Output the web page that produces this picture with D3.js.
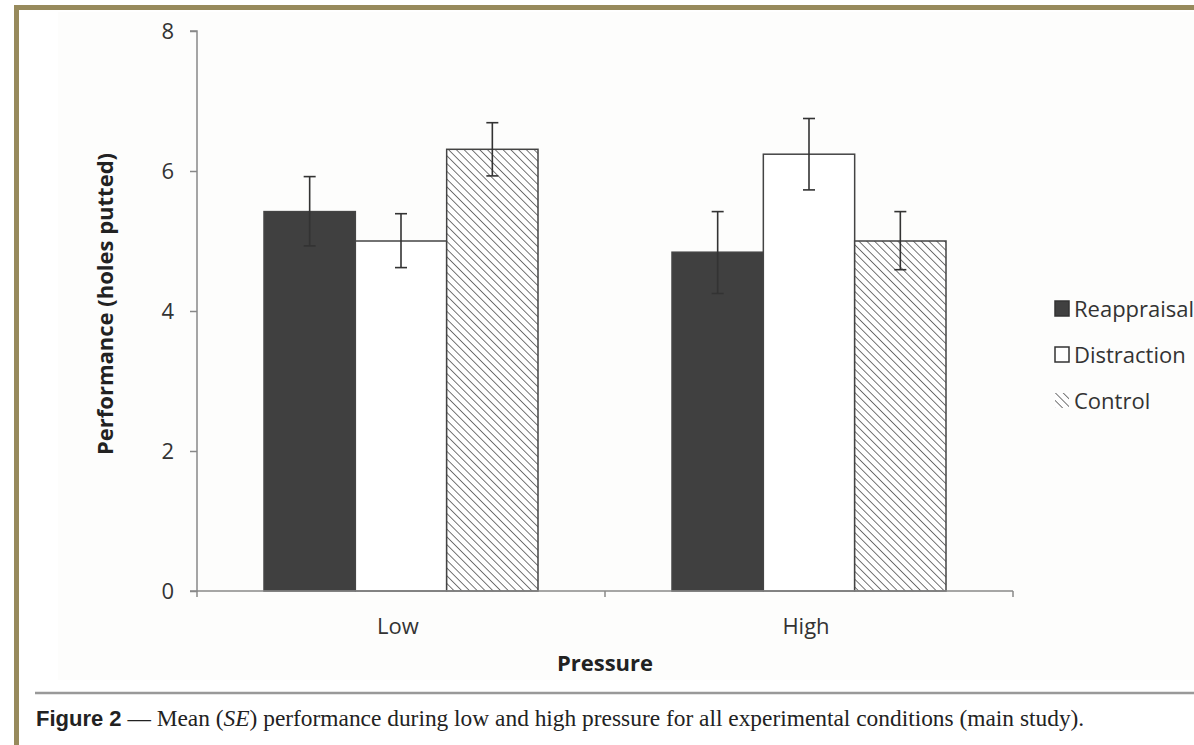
<!DOCTYPE html>
<html>
<head>
<meta charset="utf-8">
<script src="https://cdn.jsdelivr.net/npm/d3@7"></script>
<style>
  body { margin: 0; background: #fff; }
  svg { display: block; }
</style>
</head>
<body>
<svg width="1194" height="745"></svg>
<script>
const groups = ["Low", "High"];
const conditions = ["Reappraisal", "Distraction", "Control"];
const means = {
  Low:  [5.42, 5.0, 6.31],
  High: [4.84, 6.24, 5.0]
};
const errLow = {
  Low:  [4.93, 4.62, 5.93],
  High: [4.25, 5.73, 4.59]
};
const errHigh = {
  Low:  [5.92, 5.39, 6.69],
  High: [5.42, 6.75, 5.42]
};
const yTicks = [0, 2, 4, 6, 8];

const svg = d3.select("svg");

// frame
svg.append("rect").attr("x", 16.5).attr("y", 7.5).attr("width", 1200).attr("height", 760)
  .attr("fill", "none").attr("stroke", "#978a5c").attr("stroke-width", 5);
svg.append("rect").attr("x", 58).attr("y", 12).attr("width", 1140).attr("height", 668)
  .attr("fill", "#fdfdfc");

const margin = { top: 31, left: 197 };
const width = 1013 - 197;
const height = 591 - 31;

const g = svg.append("g").attr("transform", `translate(${margin.left},${margin.top})`);

const x0 = d3.scaleBand().domain(groups).range([0, width]).paddingInner(0).paddingOuter(0);
const x1 = d3.scaleBand().domain(conditions).range([67, x0.bandwidth() - 67]);
const y = d3.scaleLinear().domain([0, 8]).range([height, 0]);

// hatch pattern
const defs = svg.append("defs");
const pat = defs.append("pattern").attr("id", "hatch").attr("patternUnits", "userSpaceOnUse")
  .attr("width", 5.5).attr("height", 5.5).attr("patternTransform", "rotate(-45)");
pat.append("rect").attr("width", 5.5).attr("height", 5.5).attr("fill", "#fff");
pat.append("line").attr("x1", 0).attr("y1", 0).attr("x2", 0).attr("y2", 5.5)
  .attr("stroke", "#555").attr("stroke-width", 1.6);

const fills = { Reappraisal: "#404040", Distraction: "#ffffff", Control: "url(#hatch)" };
const font = "Open Sans";

// y axis
const yAxis = g.append("g").call(d3.axisLeft(y).tickValues(yTicks).tickSize(7).tickPadding(16));
yAxis.select(".domain").attr("stroke", "#888").attr("stroke-width", 1.5).attr("d", `M-7,${height}H0V0H-7`);
yAxis.selectAll(".tick line").attr("stroke", "#888").attr("stroke-width", 1.5);
yAxis.selectAll("text").attr("font-family", font).attr("font-size", 22).attr("fill", "#333");

// bars
const bars = [];
groups.forEach(gr => conditions.forEach((c, i) => bars.push({
  group: gr, cond: c, v: means[gr][i], lo: errLow[gr][i], hi: errHigh[gr][i]
})));

g.selectAll(".bar").data(bars).join("rect")
  .attr("class", "bar")
  .attr("x", d => x0(d.group) + x1(d.cond))
  .attr("y", d => y(d.v))
  .attr("width", x1.bandwidth())
  .attr("height", d => y(0) - y(d.v))
  .attr("fill", d => fills[d.cond])
  .attr("stroke", "#444").attr("stroke-width", 1.5);

// x axis
const xAxis = g.append("g").attr("transform", `translate(0,${height})`);
xAxis.append("path").attr("d", `M0,0H${width}`).attr("stroke", "#888").attr("stroke-width", 1.5);
xAxis.selectAll(".xt").data([0, x0.bandwidth(), width]).join("line")
  .attr("x1", d => d).attr("x2", d => d).attr("y1", 0).attr("y2", 6)
  .attr("stroke", "#888").attr("stroke-width", 1.5);
xAxis.selectAll(".xl").data(groups).join("text")
  .attr("x", d => x0(d) + x0.bandwidth() / 2 - 3).attr("y", 43)
  .attr("text-anchor", "middle").attr("font-family", font).attr("font-size", 22)
  .attr("fill", "#333").text(d => d);

// error bars
const eb = g.selectAll(".err").data(bars).join("g").attr("class", "err")
  .attr("transform", d => `translate(${x0(d.group) + x1(d.cond) + x1.bandwidth() / 2},0)`);
eb.append("line").attr("y1", d => y(d.lo)).attr("y2", d => y(d.hi)).attr("stroke", "#333").attr("stroke-width", 1.6);
eb.append("line").attr("x1", -6).attr("x2", 6).attr("y1", d => y(d.lo)).attr("y2", d => y(d.lo)).attr("stroke", "#333").attr("stroke-width", 1.6);
eb.append("line").attr("x1", -6).attr("x2", 6).attr("y1", d => y(d.hi)).attr("y2", d => y(d.hi)).attr("stroke", "#333").attr("stroke-width", 1.6);

// axis titles
g.append("text").attr("transform", `translate(-84,273) rotate(-90)`)
  .attr("text-anchor", "middle").attr("font-family", font).attr("font-weight", "bold")
  .attr("font-size", 22).attr("fill", "#222").text("Performance (holes putted)");
g.append("text").attr("x", width / 2).attr("y", height + 80)
  .attr("text-anchor", "middle").attr("font-family", font).attr("font-weight", "bold")
  .attr("font-size", 22).attr("fill", "#222").text("Pressure");

// legend
const leg = svg.append("g").attr("transform", "translate(1055,0)");
const legY = [309, 355, 401];
conditions.forEach((c, i) => {
  const row = leg.append("g").attr("transform", `translate(0,${legY[i]})`);
  row.append("rect").attr("x", 0).attr("y", -8).attr("width", 14).attr("height", 15)
    .attr("fill", fills[c]).attr("stroke", c === "Control" ? "none" : "#333").attr("stroke-width", 1.5);
  row.append("text").attr("x", 19).attr("y", 8).attr("font-family", font)
    .attr("font-size", 22).attr("fill", "#333").text(c);
});

// caption
svg.append("line").attr("x1", 35).attr("x2", 1194).attr("y1", 693).attr("y2", 693)
  .attr("stroke", "#999").attr("stroke-width", 2.5);
const cap = svg.append("text").attr("x", 36).attr("y", 726).attr("fill", "#222");
cap.append("tspan").attr("font-family", "Liberation Sans").attr("font-weight", "bold")
  .attr("font-size", 22).text("Figure 2");
const serif = t => cap.append("tspan").attr("font-family", "Liberation Serif").attr("font-size", 23.4).text(t);
serif(" \u2014 Mean (");
serif("SE").attr("font-style", "italic");
serif(") performance during low and high pressure for all experimental conditions (main study).");
</script>
</body>
</html>
